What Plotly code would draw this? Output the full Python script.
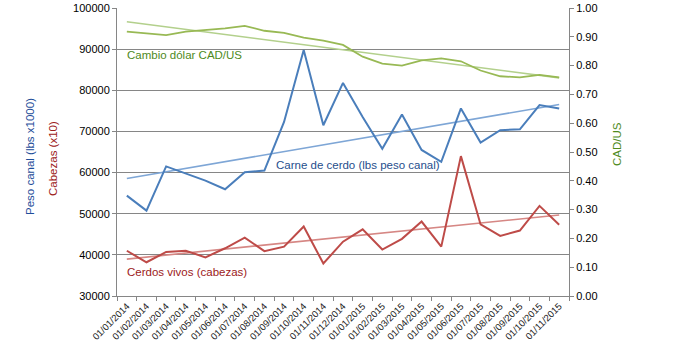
import numpy as np
import plotly.graph_objects as go

months = ["01/01/2014", "01/02/2014", "01/03/2014", "01/04/2014", "01/05/2014", "01/06/2014",
          "01/07/2014", "01/08/2014", "01/09/2014", "01/10/2014", "01/11/2014", "01/12/2014",
          "01/01/2015", "01/02/2015", "01/03/2015", "01/04/2015", "01/05/2015", "01/06/2015",
          "01/07/2015", "01/08/2015", "01/09/2015", "01/10/2015", "01/11/2015"]

carne_cerdo = [54400, 50750, 61500, 59850, 58050, 55950, 60100, 60500, 72300, 89800, 71500, 81800,
               73500, 65800, 74100, 65500, 62600, 75600, 67300, 70300, 70500, 76400, 75600]

cerdos_vivos = [41000, 38200, 40700, 41000, 39400, 41600, 44200, 40900, 42000, 46900, 37900, 43200,
                46200, 41300, 43900, 48100, 42000, 64000, 47400, 44600, 45900, 51900, 47300]

cad_us = [0.918, 0.911, 0.906, 0.918, 0.924, 0.929, 0.938, 0.921, 0.914, 0.897, 0.887, 0.872,
          0.831, 0.807, 0.800, 0.818, 0.825, 0.815, 0.783, 0.763, 0.759, 0.768, 0.759]

left_ticks = [30000, 40000, 50000, 60000, 70000, 80000, 90000, 100000]
right_ticks = [0.0, 0.1, 0.2, 0.3, 0.4, 0.5, 0.6, 0.7, 0.8, 0.9, 1.0]

idx = np.arange(len(months))


def trend(vals):
    m, b = np.polyfit(idx, vals, 1)
    return list(m * idx + b)


BLUE = "#4a7ebb"
RED = "#be4b48"
GREEN = "#98b954"
FONT = "Liberation Sans, Arial, sans-serif"

fig = go.Figure()

fig.add_trace(go.Scatter(x=months, y=trend(carne_cerdo), mode="lines",
                         line=dict(color="#7ea6d6", width=1.6), hoverinfo="skip"))
fig.add_trace(go.Scatter(x=months, y=trend(cerdos_vivos), mode="lines",
                         line=dict(color="#d68784", width=1.6), hoverinfo="skip"))
fig.add_trace(go.Scatter(x=months, y=trend(cad_us), mode="lines", yaxis="y2",
                         line=dict(color="#b3d08c", width=1.6), hoverinfo="skip"))

fig.add_trace(go.Scatter(x=months, y=carne_cerdo, mode="lines", name="Carne de cerdo (lbs peso canal)",
                         line=dict(color=BLUE, width=2)))
fig.add_trace(go.Scatter(x=months, y=cerdos_vivos, mode="lines", name="Cerdos vivos (cabezas)",
                         line=dict(color=RED, width=2)))
fig.add_trace(go.Scatter(x=months, y=cad_us, mode="lines", yaxis="y2", name="Cambio dólar CAD/US",
                         line=dict(color=GREEN, width=1.8)))

fig.update_layout(
    width=694, height=360,
    margin=dict(l=117, r=125, t=8, b=64, autoexpand=False),
    paper_bgcolor="white", plot_bgcolor="white",
    showlegend=False,
    font=dict(family=FONT, size=11, color="#000000"),
    xaxis=dict(type="category", tickangle=-45, tickson="boundaries", automargin=False,
               ticks="outside", ticklen=4, tickcolor="#868686",
               showline=True, linecolor="#868686", linewidth=1,
               showgrid=False, tickfont=dict(size=9.5, color="#222222"),
               range=[-0.5, len(months) - 0.5]),
    yaxis=dict(range=[30000, 100000], tickvals=left_ticks, ticktext=[str(v) for v in left_ticks],
               ticks="outside", ticklen=4, automargin=False,
               tickcolor="#868686", showline=True, linecolor="#868686", linewidth=1,
               showgrid=True, gridcolor="#868686", gridwidth=1, zeroline=False,
               tickfont=dict(size=11)),
    yaxis2=dict(range=[0, 1.0], tickvals=right_ticks, tickformat=".2f", overlaying="y",
                side="right", ticks="outside", ticklen=4, tickcolor="#868686", automargin=False,
                showline=True, linecolor="#868686", linewidth=1, showgrid=False,
                zeroline=False, tickfont=dict(size=11)),
    annotations=[
        dict(text="Cambio dólar CAD/US", xref="paper", yref="paper", x=(125 - 117) / 452,
             y=(296 - 55) / 288, xanchor="left", yanchor="middle", showarrow=False,
             font=dict(size=11.5, color="#4e8a1c")),
        dict(text="Carne de cerdo (lbs peso canal)", xref="paper", yref="paper",
             x=(274 - 117) / 452, y=(296 - 164.5) / 288, xanchor="left", yanchor="middle",
             showarrow=False, font=dict(size=11.5, color="#1f4e8c")),
        dict(text="Cerdos vivos (cabezas)", xref="paper", yref="paper", x=(125 - 117) / 452,
             y=(296 - 271.5) / 288, xanchor="left", yanchor="middle", showarrow=False,
             font=dict(size=11.5, color="#9c2020")),
        dict(text="Peso canal (lbs x1000)", xref="paper", yref="paper", x=(30 - 117) / 452,
             y=(296 - 157) / 288, xanchor="center", yanchor="middle", textangle=-90,
             showarrow=False, font=dict(size=11.5, color="#1f4e9a")),
        dict(text="Cabezas (x10)", xref="paper", yref="paper", x=(53 - 117) / 452,
             y=(296 - 159) / 288, xanchor="center", yanchor="middle", textangle=-90,
             showarrow=False, font=dict(size=11.5, color="#9c2020")),
        dict(text="CAD/US", xref="paper", yref="paper", x=(617 - 117) / 452,
             y=(296 - 144) / 288, xanchor="center", yanchor="middle", textangle=-90,
             showarrow=False, font=dict(size=11.5, color="#4e8a1c")),
    ],
)

fig.write_html("out.html", config={"displayModeBar": False},
               post_script="document.body.style.margin='0';document.body.style.overflow='hidden';")
